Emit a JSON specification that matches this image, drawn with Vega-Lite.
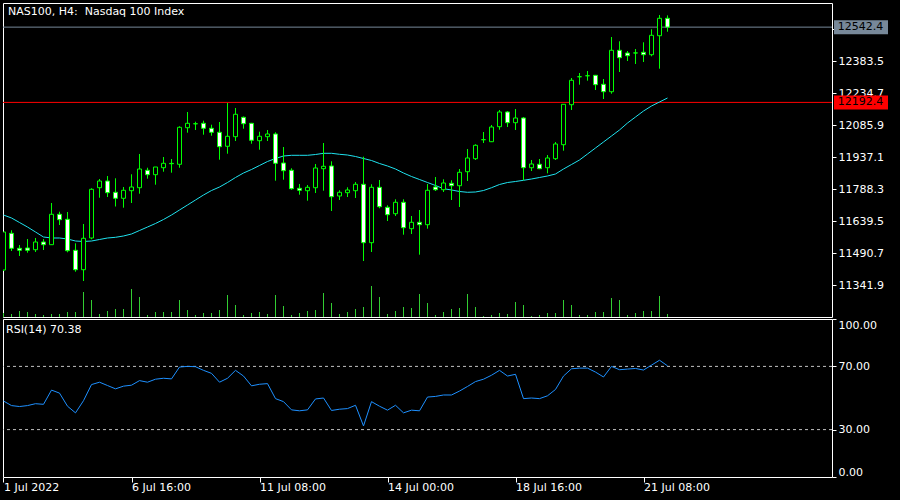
{
  "$schema": "https://vega.github.io/schema/vega-lite/v6.json",
  "background": "black",
  "padding": {"left": 2, "top": 2, "right": 13, "bottom": 7},
  "spacing": 2,
  "bounds": "flush",
  "config": {
    "view": {"stroke": "white", "strokeWidth": 1, "fill": "black"},
    "font": "DejaVu Sans",
    "axis": {"labelColor": "white", "tickColor": "white", "labelFont": "DejaVu Sans", "labelFontSize": 11, "domain": false, "grid": false, "title": null, "tickSize": 4, "labelPadding": 2, "labelOverlap": false, "labelFlush": false},
    "scale": {"nice": false, "continuousPadding": 0}
  },
  "datasets": {
    "bars": [
      {"i":0,"open":11413.1,"high":11589.8,"low":11408.4,"close":11589.8,"vol":1000,"ma":11668.8,"rsi":48.1},
      {"i":1,"open":11583.7,"high":11597.7,"low":11501.4,"close":11514.0,"vol":750,"ma":11654.9,"rsi":45.2},
      {"i":2,"open":11514.0,"high":11529.3,"low":11478.2,"close":11504.7,"vol":1500,"ma":11633.9,"rsi":44.6},
      {"i":3,"open":11515.4,"high":11557.2,"low":11493.5,"close":11504.7,"vol":1250,"ma":11613.0,"rsi":45.2},
      {"i":4,"open":11507.4,"high":11561.9,"low":11496.8,"close":11543.3,"vol":750,"ma":11589.8,"rsi":46.4},
      {"i":5,"open":11543.3,"high":11557.2,"low":11506.1,"close":11530.7,"vol":500,"ma":11566.5,"rsi":46.0},
      {"i":6,"open":11530.7,"high":11724.6,"low":11529.3,"close":11672.1,"vol":750,"ma":11561.9,"rsi":55.0},
      {"i":7,"open":11672.1,"high":11684.1,"low":11622.3,"close":11647.0,"vol":750,"ma":11561.9,"rsi":53.1},
      {"i":8,"open":11648.8,"high":11682.8,"low":11495.4,"close":11502.8,"vol":1250,"ma":11557.2,"rsi":44.8},
      {"i":9,"open":11504.7,"high":11537.2,"low":11405.1,"close":11414.4,"vol":1250,"ma":11547.9,"rsi":40.6},
      {"i":10,"open":11414.4,"high":11627.0,"low":11361.9,"close":11560.5,"vol":6250,"ma":11545.6,"rsi":48.3},
      {"i":11,"open":11561.9,"high":11793.0,"low":11555.8,"close":11788.3,"vol":4250,"ma":11547.9,"rsi":58.5},
      {"i":12,"open":11795.7,"high":11836.2,"low":11749.2,"close":11826.9,"vol":750,"ma":11554.9,"rsi":60.0},
      {"i":13,"open":11826.9,"high":11850.2,"low":11752.5,"close":11772.5,"vol":1500,"ma":11561.9,"rsi":57.9},
      {"i":14,"open":11774.4,"high":11839.5,"low":11708.3,"close":11746.5,"vol":2000,"ma":11565.1,"rsi":55.8},
      {"i":15,"open":11746.5,"high":11799.0,"low":11702.7,"close":11783.7,"vol":2000,"ma":11571.2,"rsi":57.5},
      {"i":16,"open":11781.8,"high":11858.1,"low":11724.6,"close":11799.0,"vol":7000,"ma":11580.5,"rsi":58.1},
      {"i":17,"open":11795.7,"high":11952.5,"low":11767.8,"close":11882.7,"vol":5000,"ma":11596.7,"rsi":61.0},
      {"i":18,"open":11876.7,"high":11888.7,"low":11837.6,"close":11856.2,"vol":500,"ma":11613.0,"rsi":60.0},
      {"i":19,"open":11856.2,"high":11892.0,"low":11809.7,"close":11892.0,"vol":1250,"ma":11629.3,"rsi":61.9},
      {"i":20,"open":11888.7,"high":11938.5,"low":11870.1,"close":11909.2,"vol":1250,"ma":11647.9,"rsi":62.5},
      {"i":21,"open":11908.8,"high":11929.2,"low":11865.5,"close":11907.3,"vol":1250,"ma":11668.8,"rsi":62.1},
      {"i":22,"open":11904.6,"high":12081.3,"low":11888.7,"close":12076.6,"vol":4250,"ma":11692.1,"rsi":69.6},
      {"i":23,"open":12074.7,"high":12147.8,"low":12051.5,"close":12095.2,"vol":1750,"ma":11715.3,"rsi":70.0},
      {"i":24,"open":12093.3,"high":12102.6,"low":12064.1,"close":12092.8,"vol":500,"ma":11738.6,"rsi":69.8},
      {"i":25,"open":12095.2,"high":12107.3,"low":12042.2,"close":12072.0,"vol":1000,"ma":11761.8,"rsi":67.5},
      {"i":26,"open":12072.0,"high":12088.7,"low":12037.5,"close":12053.4,"vol":1000,"ma":11782.7,"rsi":65.6},
      {"i":27,"open":12053.4,"high":12101.3,"low":11925.9,"close":11986.4,"vol":1750,"ma":11799.0,"rsi":60.0},
      {"i":28,"open":11988.3,"high":12189.6,"low":11953.8,"close":12034.8,"vol":5500,"ma":11819.9,"rsi":62.5},
      {"i":29,"open":12032.9,"high":12166.4,"low":12012.9,"close":12137.1,"vol":3000,"ma":11843.2,"rsi":67.5},
      {"i":30,"open":12123.1,"high":12126.8,"low":12070.1,"close":12093.3,"vol":500,"ma":11864.1,"rsi":63.9},
      {"i":31,"open":12095.2,"high":12097.0,"low":12000.3,"close":12016.2,"vol":1000,"ma":11880.4,"rsi":57.7},
      {"i":32,"open":12014.3,"high":12056.1,"low":11972.4,"close":12034.8,"vol":1250,"ma":11899.0,"rsi":58.7},
      {"i":33,"open":12032.9,"high":12064.1,"low":12012.9,"close":12045.5,"vol":750,"ma":11917.6,"rsi":59.1},
      {"i":34,"open":12045.5,"high":12053.4,"low":11828.3,"close":11909.2,"vol":5500,"ma":11931.5,"rsi":49.6},
      {"i":35,"open":11910.6,"high":11985.0,"low":11833.0,"close":11874.8,"vol":2750,"ma":11943.2,"rsi":47.7},
      {"i":36,"open":11876.7,"high":11886.0,"low":11786.4,"close":11791.1,"vol":500,"ma":11946.4,"rsi":42.5},
      {"i":37,"open":11793.0,"high":11813.0,"low":11763.2,"close":11783.7,"vol":1000,"ma":11946.4,"rsi":41.9},
      {"i":38,"open":11781.8,"high":11808.3,"low":11735.3,"close":11797.6,"vol":1500,"ma":11946.4,"rsi":42.5},
      {"i":39,"open":11795.7,"high":11906.0,"low":11771.1,"close":11887.4,"vol":1750,"ma":11950.1,"rsi":49.4},
      {"i":40,"open":11884.1,"high":12003.6,"low":11781.8,"close":11895.3,"vol":6000,"ma":11955.7,"rsi":50.0},
      {"i":41,"open":11896.7,"high":11918.5,"low":11687.4,"close":11753.9,"vol":3500,"ma":11955.7,"rsi":42.1},
      {"i":42,"open":11757.2,"high":11783.7,"low":11738.6,"close":11774.4,"vol":750,"ma":11951.1,"rsi":42.9},
      {"i":43,"open":11772.5,"high":11797.6,"low":11752.5,"close":11785.1,"vol":1250,"ma":11947.8,"rsi":43.3},
      {"i":44,"open":11781.8,"high":11822.3,"low":11747.9,"close":11811.6,"vol":2000,"ma":11940.8,"rsi":45.4},
      {"i":45,"open":11811.6,"high":11939.9,"low":11454.9,"close":11540.0,"vol":2500,"ma":11931.5,"rsi":32.3},
      {"i":46,"open":11540.0,"high":11811.6,"low":11496.8,"close":11797.6,"vol":7750,"ma":11922.2,"rsi":47.7},
      {"i":47,"open":11797.6,"high":11831.6,"low":11700.0,"close":11707.4,"vol":5000,"ma":11908.3,"rsi":44.8},
      {"i":48,"open":11704.6,"high":11713.9,"low":11640.9,"close":11670.2,"vol":750,"ma":11896.7,"rsi":42.3},
      {"i":49,"open":11674.8,"high":11741.8,"low":11664.2,"close":11727.9,"vol":1500,"ma":11882.7,"rsi":45.4},
      {"i":50,"open":11727.9,"high":11741.8,"low":11577.2,"close":11609.7,"vol":2500,"ma":11864.1,"rsi":40.6},
      {"i":51,"open":11605.1,"high":11664.2,"low":11580.5,"close":11634.9,"vol":2250,"ma":11847.8,"rsi":42.3},
      {"i":52,"open":11634.9,"high":11692.1,"low":11484.2,"close":11623.7,"vol":5750,"ma":11833.9,"rsi":41.9},
      {"i":53,"open":11623.7,"high":11813.0,"low":11605.1,"close":11783.7,"vol":3500,"ma":11819.9,"rsi":50.6},
      {"i":54,"open":11799.0,"high":11845.5,"low":11780.4,"close":11786.4,"vol":500,"ma":11806.0,"rsi":51.0},
      {"i":55,"open":11786.4,"high":11834.8,"low":11775.8,"close":11817.6,"vol":1250,"ma":11791.1,"rsi":51.9},
      {"i":56,"open":11816.2,"high":11830.2,"low":11738.6,"close":11805.0,"vol":2000,"ma":11785.1,"rsi":51.9},
      {"i":57,"open":11805.0,"high":11882.7,"low":11706.0,"close":11867.4,"vol":2250,"ma":11778.1,"rsi":54.4},
      {"i":58,"open":11870.1,"high":11975.7,"low":11826.9,"close":11933.9,"vol":5750,"ma":11774.4,"rsi":57.3},
      {"i":59,"open":11930.6,"high":11997.6,"low":11924.6,"close":11992.9,"vol":2500,"ma":11775.8,"rsi":60.4},
      {"i":60,"open":12019.2,"high":12054.8,"low":12003.6,"close":12018.9,"vol":250,"ma":11782.7,"rsi":61.9},
      {"i":61,"open":12009.6,"high":12087.3,"low":12008.0,"close":12078.0,"vol":500,"ma":11795.7,"rsi":64.4},
      {"i":62,"open":12079.4,"high":12157.1,"low":12065.4,"close":12147.8,"vol":1000,"ma":11810.6,"rsi":67.5},
      {"i":63,"open":12147.8,"high":12152.4,"low":12078.0,"close":12098.0,"vol":750,"ma":11819.9,"rsi":63.9},
      {"i":64,"open":12098.0,"high":12161.7,"low":12064.1,"close":12119.9,"vol":3750,"ma":11824.6,"rsi":65.0},
      {"i":65,"open":12119.9,"high":12124.5,"low":11830.2,"close":11888.7,"vol":3000,"ma":11830.2,"rsi":49.6},
      {"i":66,"open":11888.7,"high":11924.6,"low":11873.4,"close":11906.0,"vol":250,"ma":11836.2,"rsi":50.0},
      {"i":67,"open":11904.6,"high":11929.2,"low":11882.0,"close":11884.1,"vol":500,"ma":11843.2,"rsi":49.6},
      {"i":68,"open":11888.7,"high":11947.8,"low":11862.7,"close":11933.9,"vol":1000,"ma":11850.2,"rsi":51.4},
      {"i":69,"open":11930.6,"high":12008.3,"low":11924.6,"close":11999.0,"vol":1000,"ma":11859.5,"rsi":55.4},
      {"i":70,"open":11995.7,"high":12183.6,"low":11967.8,"close":12183.6,"vol":4250,"ma":11882.7,"rsi":63.9},
      {"i":71,"open":12181.7,"high":12305.9,"low":12157.1,"close":12295.2,"vol":3000,"ma":11903.6,"rsi":68.5},
      {"i":72,"open":12311.6,"high":12329.1,"low":12274.7,"close":12311.9,"vol":500,"ma":11924.6,"rsi":68.9},
      {"i":73,"open":12316.2,"high":12338.4,"low":12293.3,"close":12316.5,"vol":500,"ma":11952.5,"rsi":68.9},
      {"i":74,"open":12318.4,"high":12320.0,"low":12250.1,"close":12274.7,"vol":1250,"ma":11980.4,"rsi":66.4},
      {"i":75,"open":12276.6,"high":12301.2,"low":12208.2,"close":12242.1,"vol":1250,"ma":12008.3,"rsi":63.3},
      {"i":76,"open":12242.1,"high":12496.5,"low":12232.8,"close":12434.7,"vol":4750,"ma":12036.2,"rsi":70.0},
      {"i":77,"open":12434.7,"high":12476.5,"low":12333.8,"close":12400.2,"vol":4250,"ma":12064.1,"rsi":67.9},
      {"i":78,"open":12422.1,"high":12431.4,"low":12384.9,"close":12409.5,"vol":500,"ma":12096.6,"rsi":68.3},
      {"i":79,"open":12422.4,"high":12440.7,"low":12371.0,"close":12422.1,"vol":1000,"ma":12124.5,"rsi":68.7},
      {"i":80,"open":12425.4,"high":12471.9,"low":12380.3,"close":12414.2,"vol":1500,"ma":12152.4,"rsi":67.7},
      {"i":81,"open":12414.2,"high":12532.3,"low":12406.8,"close":12504.4,"vol":1500,"ma":12175.7,"rsi":70.8},
      {"i":82,"open":12502.5,"high":12598.8,"low":12349.1,"close":12583.5,"vol":5250,"ma":12194.3,"rsi":73.9},
      {"i":83,"open":12583.5,"high":12597.0,"low":12521.1,"close":12542.4,"vol":750,"ma":12212.9,"rsi":70.38}
    ],
    "levels": [
      {"name": "Bid", "price": 12542.4},
      {"name": "Level", "price": 12192.4}
    ]
  },
  "vconcat": [
    {
      "width": 829,
      "height": 314,
      "title": {"text": "NAS100, H4:\u00a0 Nasdaq 100 Index", "anchor": "start", "frame": "group", "orient": "top", "offset": -14, "dx": 5, "color": "white", "fontSize": 11, "fontWeight": "normal", "font": "DejaVu Sans"},
      "layer": [
        {
          "data": {"name": "bars"},
          "mark": {"type": "rule", "color": "#32cd32", "strokeWidth": 1, "clip": true},
          "encoding": {
            "x": {"field": "i", "type": "quantitative", "scale": {"domain": [-0.0625, 103.5625], "nice": false, "zero": false, "padding": 0}, "axis": null},
            "y": {"field": "vol", "type": "quantitative", "scale": {"domain": [0, 78500], "nice": false, "zero": true, "padding": 0}, "axis": null},
            "y2": {"datum": 0}
          }
        },
        {
          "layer": [
            {
              "data": {"name": "levels"},
              "mark": {"type": "rule", "strokeWidth": 1},
              "encoding": {
                "y": {"field": "price", "type": "quantitative", "scale": {"domain": [11194.5, 12654.6], "nice": false, "zero": false, "padding": 0},
                  "axis": {"orient": "right", "values": [12532.3, 12383.5, 12234.7, 12085.9, 11937.1, 11788.3, 11639.5, 11490.7, 11341.9], "format": ".1f", "labelOverlap": false, "labelFlush": false, "labelExpr": "datum.value > 12500 ? '' : format(datum.value, '.1f')"}},
                "color": {"field": "name", "type": "nominal", "scale": {"domain": ["Bid", "Level"], "range": ["#778899", "#ff0000"]}, "legend": null}
              }
            },
            {
              "data": {"name": "bars"},
              "mark": {"type": "line", "color": "#1fe2ee", "strokeWidth": 1, "clip": true},
              "encoding": {
                "x": {"field": "i", "type": "quantitative", "scale": {"domain": [-0.0625, 103.5625], "nice": false, "zero": false, "padding": 0}, "axis": null},
                "y": {"field": "ma", "type": "quantitative", "scale": {"domain": [11194.5, 12654.6], "nice": false, "zero": false, "padding": 0},
                  "axis": {"orient": "right", "values": [12532.3, 12383.5, 12234.7, 12085.9, 11937.1, 11788.3, 11639.5, 11490.7, 11341.9], "format": ".1f", "labelOverlap": false, "labelFlush": false, "labelExpr": "datum.value > 12500 ? '' : format(datum.value, '.1f')"}}
              }
            },
            {
              "data": {"name": "bars"},
              "mark": {"type": "rule", "color": "#00ff00", "strokeWidth": 1, "clip": true},
              "encoding": {
                "x": {"field": "i", "type": "quantitative", "scale": {"domain": [-0.0625, 103.5625], "nice": false, "zero": false, "padding": 0}, "axis": null},
                "y": {"field": "low", "type": "quantitative", "scale": {"domain": [11194.5, 12654.6], "nice": false, "zero": false, "padding": 0},
                  "axis": {"orient": "right", "values": [12532.3, 12383.5, 12234.7, 12085.9, 11937.1, 11788.3, 11639.5, 11490.7, 11341.9], "format": ".1f", "labelOverlap": false, "labelFlush": false, "labelExpr": "datum.value > 12500 ? '' : format(datum.value, '.1f')"}},
                "y2": {"field": "high"}
              }
            },
            {
              "data": {"name": "bars"},
              "mark": {"type": "bar", "size": 4, "stroke": "#00ff00", "strokeWidth": 1, "clip": true},
              "encoding": {
                "x": {"field": "i", "type": "quantitative", "scale": {"domain": [-0.0625, 103.5625], "nice": false, "zero": false, "padding": 0}, "axis": null},
                "y": {"field": "open", "type": "quantitative", "scale": {"domain": [11194.5, 12654.6], "nice": false, "zero": false, "padding": 0},
                  "axis": {"orient": "right", "values": [12532.3, 12383.5, 12234.7, 12085.9, 11937.1, 11788.3, 11639.5, 11490.7, 11341.9], "format": ".1f", "labelOverlap": false, "labelFlush": false, "labelExpr": "datum.value > 12500 ? '' : format(datum.value, '.1f')"}},
                "y2": {"field": "close"},
                "fill": {"condition": {"test": "datum.close < datum.open", "value": "#ffffff"}, "value": "#000000"}
              }
            },
            {
              "data": {"name": "levels"},
              "mark": {"type": "bar", "size": 14, "clip": false},
              "encoding": {
                "x": {"datum": 103.8125, "type": "quantitative", "scale": {"domain": [-0.0625, 103.5625], "nice": false, "zero": false, "padding": 0}, "axis": null},
                "x2": {"datum": 110.5625},
                "y": {"field": "price", "type": "quantitative", "scale": {"domain": [11194.5, 12654.6], "nice": false, "zero": false, "padding": 0},
                  "axis": {"orient": "right", "values": [12532.3, 12383.5, 12234.7, 12085.9, 11937.1, 11788.3, 11639.5, 11490.7, 11341.9], "format": ".1f", "labelOverlap": false, "labelFlush": false, "labelExpr": "datum.value > 12500 ? '' : format(datum.value, '.1f')"}},
                "color": {"field": "name", "type": "nominal", "scale": {"domain": ["Bid", "Level"], "range": ["#778899", "#ff0000"]}, "legend": null}
              }
            },
            {
              "data": {"name": "levels"},
              "mark": {"type": "text", "align": "left", "baseline": "middle", "color": "#000000", "fontSize": 11, "font": "DejaVu Sans", "clip": false},
              "encoding": {
                "x": {"datum": 104.275, "type": "quantitative", "scale": {"domain": [-0.0625, 103.5625], "nice": false, "zero": false, "padding": 0}, "axis": null},
                "y": {"field": "price", "type": "quantitative", "scale": {"domain": [11194.5, 12654.6], "nice": false, "zero": false, "padding": 0},
                  "axis": {"orient": "right", "values": [12532.3, 12383.5, 12234.7, 12085.9, 11937.1, 11788.3, 11639.5, 11490.7, 11341.9], "format": ".1f", "labelOverlap": false, "labelFlush": false, "labelExpr": "datum.value > 12500 ? '' : format(datum.value, '.1f')"}},
                "text": {"field": "price", "type": "quantitative", "format": ".1f"}
              }
            }
          ]
        }
      ],
      "resolve": {"scale": {"y": "independent"}}
    },
    {
      "width": 829,
      "height": 158,
      "title": {"text": "RSI(14) 70.38", "anchor": "start", "frame": "group", "orient": "top", "offset": -16, "dx": 3, "color": "white", "fontSize": 11, "fontWeight": "normal", "font": "DejaVu Sans"},
      "layer": [
        {
          "data": {"values": [{"level": 70}, {"level": 30}]},
          "mark": {"type": "rule", "color": "#c0c0c0", "strokeWidth": 1, "strokeDash": [3, 3]},
          "encoding": {
            "y": {"field": "level", "type": "quantitative", "scale": {"domain": [0, 100], "nice": false, "padding": 0},
              "axis": {"orient": "right", "values": [0, 30, 70, 100], "format": ".2f", "labelFlush": true, "labelOverlap": false}}
          }
        },
        {
          "data": {"name": "bars"},
          "mark": {"type": "line", "color": "#1e90ff", "strokeWidth": 1, "clip": true},
          "encoding": {
            "x": {"field": "i", "type": "quantitative", "scale": {"domain": [-0.0625, 103.5625], "nice": false, "zero": false, "padding": 0},
              "axis": {"orient": "bottom", "values": [0, 16, 32, 48, 64, 80], "labelAlign": "left", "labelFlush": false, "labelOverlap": false, "tickSize": 5, "labelPadding": -1,
                "labelExpr": "datum.value == 0 ? '1 Jul 2022' : datum.value == 16 ? '6 Jul 16:00' : datum.value == 32 ? '11 Jul 08:00' : datum.value == 48 ? '14 Jul 00:00' : datum.value == 64 ? '18 Jul 16:00' : '21 Jul 08:00'"}},
            "y": {"field": "rsi", "type": "quantitative", "scale": {"domain": [0, 100], "nice": false, "padding": 0},
              "axis": {"orient": "right", "values": [0, 30, 70, 100], "format": ".2f", "labelFlush": true, "labelOverlap": false}}
          }
        }
      ]
    }
  ]
}
